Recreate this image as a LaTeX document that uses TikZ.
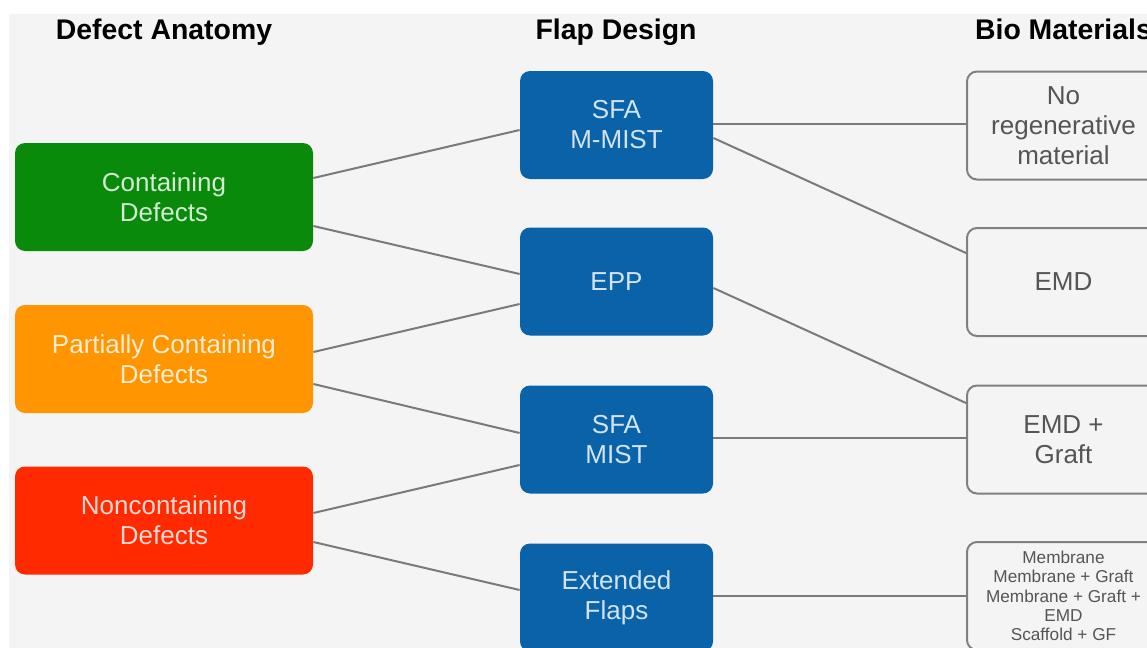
\documentclass[tikz,border=0pt]{standalone}
\usepackage{fontspec}
\setmainfont{Liberation Sans}
\usetikzlibrary{calc}

\definecolor{pagebg}{HTML}{F4F4F4}
\definecolor{linkgray}{HTML}{7A7A7A}
\definecolor{boxgray}{HTML}{808080}
\definecolor{matgray}{HTML}{555555}
\definecolor{cgreen}{HTML}{0A8A0A}
\definecolor{corange}{HTML}{FF9500}
\definecolor{cred}{HTML}{FF2A00}
\definecolor{cblue}{HTML}{0A62A8}

\tikzset{
  heading/.style={font=\fontsize{14.2}{16}\selectfont\bfseries, anchor=base, inner sep=0pt},
  anatomy/.style={rounded corners=5pt, minimum width=149pt, minimum height=54pt,
    inner sep=2pt, align=center, font=\fontsize{13}{15}\selectfont,
    fill=#1, text=white!82!#1},
  flap/.style={rounded corners=5pt, minimum width=96.5pt, minimum height=54pt,
    inner sep=2pt, align=center, font=\fontsize{13}{15}\selectfont,
    fill=cblue, text=white!82!cblue},
  material/.style={rounded corners=5pt, minimum width=96.5pt, minimum height=54pt,
    inner sep=2pt, align=center, font=\fontsize{13}{15}\selectfont,
    draw=boxgray, line width=1pt, fill=pagebg, text=matgray},
  link/.style={draw=linkgray, line width=1pt}
}

\begin{document}
\begin{tikzpicture}[x=0.5pt,y=-0.5pt]
  % page and panel
  \useasboundingbox (0,0) rectangle (1147,648);
  \clip (0,0) rectangle (1147,648);
  \fill[white] (0,0) rectangle (1147,648);
  \fill[pagebg] (9,14) rectangle (1147,648);

  % column headings
  \node[heading] (h1) at (164,39.5) {Defect Anatomy};
  \node[heading] (h2) at (616,39.5) {Flap Design};
  \node[heading] (h3) at (1063.5,39.5) {Bio Materials};

  % defect anatomy
  \node[anatomy=cgreen]  (cont) at (164,197)   {Containing\\Defects};
  \node[anatomy=corange] (part) at (164,359)   {Partially Containing\\Defects};
  \node[anatomy=cred]    (nonc) at (164,520.5) {Noncontaining\\Defects};

  % flap design
  \node[flap] (mmist) at (616.5,125)   {SFA\\M-MIST};
  \node[flap] (epp)   at (616.5,281.5) {EPP};
  \node[flap] (mist)  at (616.5,439.5) {SFA\\MIST};
  \node[flap] (ext)   at (616.5,597.5) {Extended\\Flaps};

  % bio materials
  \node[material] (noreg) at (1063.5,125.5) {No\\regenerative\\material};
  \node[material] (emd)   at (1063.5,282)   {EMD};
  \node[material] (emdg)  at (1063.5,439.5) {EMD +\\Graft};
  \node[material, font=\fontsize{8.6}{9.65}\selectfont] (memb) at (1063.5,596)
    {Membrane\\Membrane + Graft\\Membrane + Graft +\\EMD\\Scaffold + GF};

  % anatomy -> flap
  \draw[link] ($(cont.east)+(0,-19)$)  -- ($(mmist.west)+(0,5)$);
  \draw[link] ($(cont.east)+(0,29)$)   -- ($(epp.west)+(0,-7.5)$);
  \draw[link] ($(part.east)+(0,-7)$)   -- ($(epp.west)+(0,22.5)$);
  \draw[link] ($(part.east)+(0,25)$)   -- ($(mist.west)+(0,-6.5)$);
  \draw[link] ($(nonc.east)+(0,-7.5)$) -- ($(mist.west)+(0,25.5)$);
  \draw[link] ($(nonc.east)+(0,21.5)$) -- ($(ext.west)+(0,-7.5)$);

  % flap -> material
  \draw[link] ($(mmist.east)+(0,-1)$)   -- ($(noreg.west)+(0,-1.5)$);
  \draw[link] ($(mmist.east)+(0,13)$)   -- ($(emd.west)+(0,-29)$);
  \draw[link] ($(epp.east)+(0,6.5)$)    -- ($(emdg.west)+(0,-36.5)$);
  \draw[link] ($(mist.east)+(0,-1.5)$)  -- ($(emdg.west)+(0,-1.5)$);
  \draw[link] ($(ext.east)+(0,-1.5)$)   -- ($(memb.west)+(0,0)$);
\end{tikzpicture}
\end{document}
